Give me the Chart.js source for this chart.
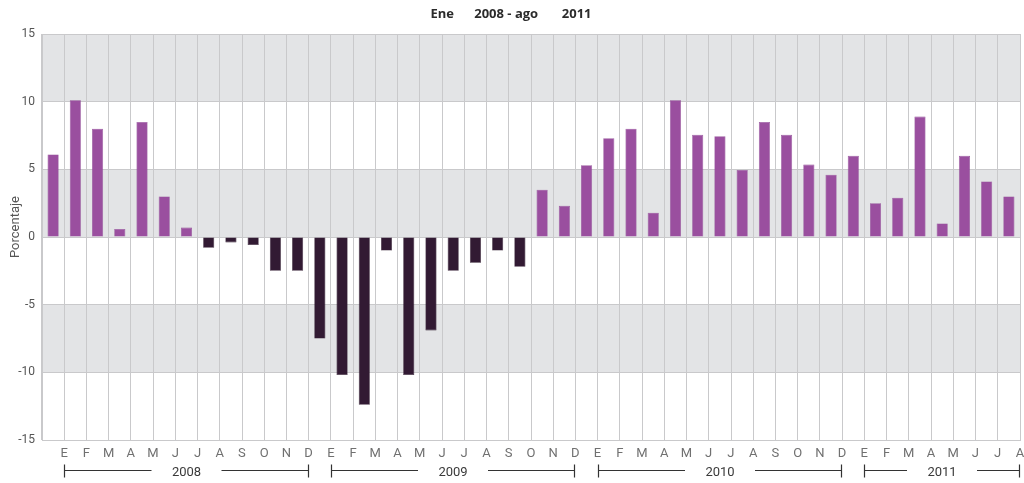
<!DOCTYPE html>
<html>
<head>
<meta charset="utf-8">
<script src="https://cdn.jsdelivr.net/npm/chart.js@4/dist/chart.umd.min.js"></script>
<style>
  html, body { margin: 0; padding: 0; background: #ffffff; }
  #wrap { width: 1024px; height: 483px; position: relative; }
</style>
</head>
<body>
<div id="wrap"><canvas id="chart" width="1024" height="483"></canvas></div>
<script>
// Monthly variation (%), January 2008 to August 2011
const monthLetters = ['E','F','M','A','M','J','J','A','S','O','N','D'];
const categories = [
  ...monthLetters, ...monthLetters, ...monthLetters,
  'E','F','M','A','M','J','J','A'
];
const values2008 = [6.1, 10.1, 8.0, 0.6, 8.5, 3.0, 0.7, -0.8, -0.4, -0.6, -2.5, -2.5];
const values2009 = [-7.5, -10.2, -12.4, -1.0, -10.2, -6.9, -2.5, -1.9, -1.0, -2.2, 3.5, 2.3];
const values2010 = [5.3, 7.3, 8.0, 1.8, 10.1, 7.55, 7.45, 4.95, 8.5, 7.55, 5.35, 4.6];
const values2011 = [6.0, 2.5, 2.9, 8.9, 1.0, 6.0, 4.1, 3.0];
const values = [...values2008, ...values2009, ...values2010, ...values2011];

const years = ['2008', '2009', '2010', '2011'];
const monthsPerYear = [12, 12, 12, 8];
const yTicks = [-15, -10, -5, 0, 5, 10, 15];
const shadedBands = [[10, 15], [0, 5], [-10, -5]];

const titleText = 'Ene      2008 - ago       2011';
const yTitle = 'Porcentaje';

const POS = '#9a4f9f';
const NEG = '#321a33';
const GRID = '#c9c9cb';

// Shaded horizontal bands behind the grid
const bandsPlugin = {
  id: 'bands',
  beforeDraw(chart) {
    const { ctx, chartArea: a, scales: { y } } = chart;
    ctx.save();
    ctx.fillStyle = '#e3e4e6';
    shadedBands.forEach(([lo, hi]) => {
      const top = y.getPixelForValue(hi);
      const bot = y.getPixelForValue(lo);
      ctx.fillRect(a.left, top, a.right - a.left, bot - top);
    });
    ctx.restore();
  }
};

// Title line, vertical axis caption and year brackets under the month letters
const decorPlugin = {
  id: 'decor',
  afterDraw(chart) {
    const { ctx, scales: { x, y } } = chart;
    const step = x.getPixelForValue(1) - x.getPixelForValue(0);
    ctx.save();
    ctx.fillStyle = '#2b2b2b';
    ctx.font = 'bold 13px "Open Sans", "DejaVu Sans", sans-serif';
    ctx.textAlign = 'center';
    ctx.textBaseline = 'middle';
    ctx.fillText(titleText, 511, 14);

    // rotated caption of the value axis
    ctx.save();
    ctx.translate(16, y.getPixelForValue(0) - 10);
    ctx.rotate(-Math.PI / 2);
    ctx.fillStyle = '#555555';
    ctx.font = '13px Roboto, "DejaVu Sans", sans-serif';
    ctx.fillText(yTitle, 0, 0);
    ctx.restore();

    ctx.strokeStyle = '#333333';
    ctx.lineWidth = 1.2;
    ctx.fillStyle = '#3a3a3a';
    ctx.font = '13px Roboto, "DejaVu Sans", sans-serif';
    const yLine = 470.5;
    let start = 0;
    years.forEach((yr, k) => {
      const n = monthsPerYear[k];
      const x0 = Math.round(x.getPixelForValue(start) + step / 2) + 0.5;
      const x1 = Math.round(x.getPixelForValue(start + n - 1) + step / 2) - 0.5;
      const mid = (x0 + x1) / 2;
      const half = 35;
      ctx.beginPath();
      ctx.moveTo(x0, yLine - 6); ctx.lineTo(x0, yLine + 7);
      ctx.moveTo(x1, yLine - 6); ctx.lineTo(x1, yLine + 7);
      ctx.moveTo(x0, yLine); ctx.lineTo(Math.max(x0, mid - half), yLine);
      ctx.moveTo(Math.min(x1, mid + half), yLine); ctx.lineTo(x1, yLine);
      ctx.stroke();
      ctx.fillText(yr, mid, yLine + 2);
      start += n;
    });
    ctx.restore();
  }
};

new Chart(document.getElementById('chart'), {
  type: 'bar',
  data: {
    labels: categories,
    datasets: [{
      data: values,
      backgroundColor: values.map(v => v >= 0 ? POS : NEG),
      borderColor: values.map(v => v >= 0 ? '#8a4590' : '#281428'),
      borderWidth: 0.6,
      barPercentage: 0.5,
      categoryPercentage: 1.0
    }]
  },
  options: {
    responsive: false,
    animation: false,
    devicePixelRatio: 1,
    layout: { padding: { top: 34, right: 4, left: 0, bottom: 0 } },
    plugins: {
      legend: { display: false },
      tooltip: { enabled: false },
      title: { display: false }
    },
    scales: {
      x: {
        type: 'category',
        offset: true,
        grid: { offset: true, color: GRID, lineWidth: 1, drawTicks: false },
        border: { display: true, color: GRID },
        ticks: {
          autoSkip: false,
          maxRotation: 0,
          labelOffset: 11,
          padding: 6,
          color: '#707070',
          font: { family: 'Roboto, "DejaVu Sans", sans-serif', size: 13 }
        },
        afterFit(scale) { scale.height = 43; }
      },
      y: {
        min: -15,
        max: 15,
        afterBuildTicks(scale) { scale.ticks = yTicks.map(v => ({ value: v })); },
        grid: { color: GRID, lineWidth: 1, drawTicks: false },
        border: { display: true, color: GRID },
        ticks: {
          padding: 7,
          color: '#555555',
          font: { family: 'Roboto, "DejaVu Sans", sans-serif', size: 12 }
        },
        afterFit(scale) { scale.width = 42; }
      }
    }
  },
  plugins: [bandsPlugin, decorPlugin]
});
</script>
</body>
</html>
